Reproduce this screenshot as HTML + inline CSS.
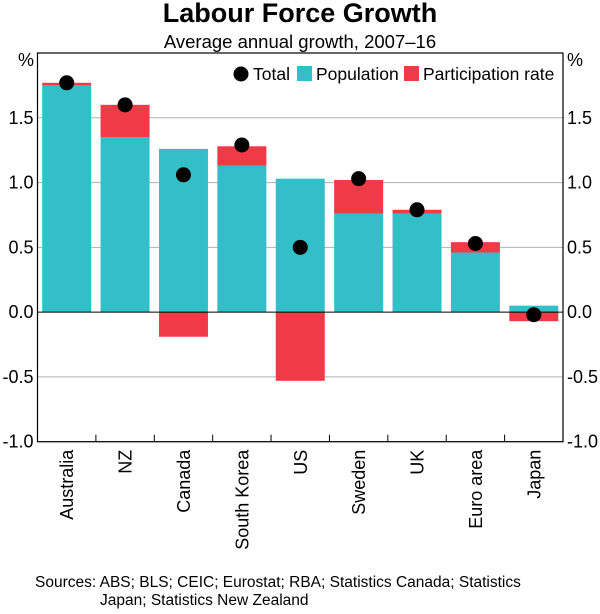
<!DOCTYPE html>
<html><head><meta charset="utf-8"><style>
body{margin:0;background:#fff;font-family:"Liberation Sans",Arial,sans-serif}
svg text{font-family:"Liberation Sans",Arial,sans-serif}
</style></head><body>
<svg id="c" width="600" height="609" xmlns="http://www.w3.org/2000/svg">
<text x="300" y="22" text-anchor="middle" font-size="27" font-weight="bold">Labour Force Growth</text>
<text x="300" y="48" text-anchor="middle" font-size="18.5">Average annual growth, 2007–16</text>
<g id="grid"></g><g id="bars"></g><g id="dots"></g><g id="axes"></g>
<g>
<circle cx="241" cy="74" r="7.5" fill="#000"/>
<text x="253" y="80" font-size="17.5">Total</text>
<rect x="297" y="66" width="15" height="15" fill="#33bfc8"/>
<text x="316" y="80" font-size="17.5">Population</text>
<rect x="404" y="66" width="15" height="15" fill="#f03a47"/>
<text x="423" y="80" font-size="17.5">Participation rate</text>
</g>
<text x="35" y="587" font-size="15.5">Sources: ABS; BLS; CEIC; Eurostat; RBA; Statistics Canada; Statistics</text>
<text x="100" y="605" font-size="15.5">Japan; Statistics New Zealand</text>
</svg>
<script>
const categories=["Australia","NZ","Canada","South Korea","US","Sweden","UK","Euro area","Japan"];
const population=[1.75,1.35,1.26,1.13,1.03,0.76,0.76,0.46,0.05];
const participation=[0.02,0.25,-0.19,0.15,-0.53,0.26,0.03,0.08,-0.07];
const total=[1.77,1.60,1.06,1.29,0.50,1.03,0.79,0.53,-0.02];
const yTicks=[-1.0,-0.5,0.0,0.5,1.0,1.5];
const yTickLabels=["-1.0","-0.5","0.0","0.5","1.0","1.5"];
const NS="http://www.w3.org/2000/svg";
const L=37.5,R=563,T=53,B=441.7,yMin=-1,yMax=2;
const y=v=>T+(yMax-v)/(yMax-yMin)*(B-T);
const step=(R-L)/categories.length;
const xc=i=>L+step*(i+0.5);
const bw=49;
function mk(tag,attrs,parent){const e=document.createElementNS(NS,tag);for(const k in attrs)e.setAttribute(k,attrs[k]);document.getElementById(parent).appendChild(e);return e;}
yTicks.forEach((t,i)=>{
 if(t!==0){const g=mk("line",{x1:L,x2:R,y1:y(t),y2:y(t),stroke:"#b0b0b0","stroke-width":1},"grid");
 
 }
 const a=mk("text",{x:L-4,y:y(t)+6,"text-anchor":"end","font-size":18},"axes");a.textContent=yTickLabels[i];
 
 
 const b=mk("text",{x:R+4,y:y(t)+6,"text-anchor":"start","font-size":18},"axes");b.textContent=yTickLabels[i];
 
 
});
categories.forEach((c,i)=>{
 const p=population[i],q=participation[i];
 const r1=mk("rect",{x:xc(i)-bw/2,y:Math.min(y(p),y(0)),width:bw,height:Math.abs(y(p)-y(0)),fill:"#33bfc8"},"bars");
 
 
 const base=q>=0?Math.max(p,0):Math.min(p,0);
 const top=base+q;
 const r2=mk("rect",{x:xc(i)-bw/2,y:Math.min(y(base),y(top)),width:bw,height:Math.abs(y(top)-y(base)),fill:"#f03a47"},"bars");
 
 
 const d=mk("circle",{cx:xc(i),cy:y(total[i]),r:7.5,fill:"#000"},"dots");
 
 
 if(i<categories.length-1){
 const tk=mk("line",{x1:L+step*(i+1),x2:L+step*(i+1),y1:B-7,y2:B,stroke:"#000"},"axes");
 
 }
 const lb=mk("text",{transform:`translate(${xc(i)+6.5},${B+8}) rotate(-90)`,"text-anchor":"end","font-size":18},"axes");lb.textContent=c;
 
 
});
const z=mk("line",{x1:L,x2:R,y1:y(0),y2:y(0),stroke:"#000","stroke-width":1},"axes");


const fr=mk("rect",{x:L,y:T,width:R-L,height:B-T,fill:"none",stroke:"#000","stroke-width":1.2},"axes");


const pl=mk("text",{x:18,y:66,"font-size":18},"axes");pl.textContent="%";


const pr=mk("text",{x:567,y:66,"font-size":18},"axes");pr.textContent="%";


</script>
</body></html>
